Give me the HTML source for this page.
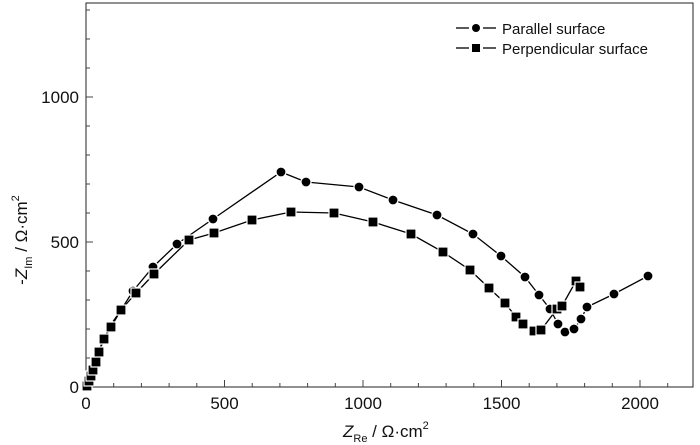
<!DOCTYPE html>
<html><head><meta charset="utf-8"><style>html,body{margin:0;padding:0;background:#fff}svg{display:block}</style></head>
<body>
<svg width="700" height="445" viewBox="0 0 700 445" xmlns="http://www.w3.org/2000/svg" font-family="Liberation Sans, Arial, sans-serif">
<rect x="86" y="3" width="607" height="384" fill="none" stroke="#222" stroke-width="1"/>
<g stroke="#444" stroke-width="1">
<line x1="86" y1="387" x2="86" y2="380"/>
<line x1="113.7" y1="387" x2="113.7" y2="383"/>
<line x1="141.4" y1="387" x2="141.4" y2="383"/>
<line x1="169.1" y1="387" x2="169.1" y2="383"/>
<line x1="196.8" y1="387" x2="196.8" y2="383"/>
<line x1="224.5" y1="387" x2="224.5" y2="380"/>
<line x1="252.2" y1="387" x2="252.2" y2="383"/>
<line x1="279.9" y1="387" x2="279.9" y2="383"/>
<line x1="307.6" y1="387" x2="307.6" y2="383"/>
<line x1="335.3" y1="387" x2="335.3" y2="383"/>
<line x1="363" y1="387" x2="363" y2="380"/>
<line x1="390.7" y1="387" x2="390.7" y2="383"/>
<line x1="418.4" y1="387" x2="418.4" y2="383"/>
<line x1="446.1" y1="387" x2="446.1" y2="383"/>
<line x1="473.8" y1="387" x2="473.8" y2="383"/>
<line x1="501.5" y1="387" x2="501.5" y2="380"/>
<line x1="529.2" y1="387" x2="529.2" y2="383"/>
<line x1="556.9" y1="387" x2="556.9" y2="383"/>
<line x1="584.6" y1="387" x2="584.6" y2="383"/>
<line x1="612.3" y1="387" x2="612.3" y2="383"/>
<line x1="640" y1="387" x2="640" y2="380"/>
<line x1="667.7" y1="387" x2="667.7" y2="383"/>
<line x1="86" y1="358" x2="90" y2="358"/>
<line x1="86" y1="329" x2="90" y2="329"/>
<line x1="86" y1="300" x2="90" y2="300"/>
<line x1="86" y1="271" x2="90" y2="271"/>
<line x1="86" y1="242" x2="93" y2="242"/>
<line x1="86" y1="213" x2="90" y2="213"/>
<line x1="86" y1="184" x2="90" y2="184"/>
<line x1="86" y1="155" x2="90" y2="155"/>
<line x1="86" y1="126" x2="90" y2="126"/>
<line x1="86" y1="97" x2="93" y2="97"/>
<line x1="86" y1="68" x2="90" y2="68"/>
<line x1="86" y1="39" x2="90" y2="39"/>
<line x1="86" y1="10" x2="90" y2="10"/>
</g>
<g font-size="17" fill="#111" text-anchor="middle">
<text x="86" y="409">0</text>
<text x="224.5" y="409">500</text>
<text x="363" y="409">1000</text>
<text x="501.5" y="409">1500</text>
<text x="640" y="409">2000</text>
</g>
<g font-size="17" fill="#111" text-anchor="end">
<text x="79" y="393">0</text>
<text x="79" y="248">500</text>
<text x="79" y="103">1000</text>
</g>
<text x="343" y="437" font-size="17" fill="#111"><tspan font-style="italic">Z</tspan><tspan font-size="11" dy="5">Re</tspan><tspan dy="-5"> / Ω·cm</tspan><tspan font-size="11" dy="-8">2</tspan></text>
<text transform="translate(27,240) rotate(-90)" text-anchor="middle" font-size="17" fill="#111">-<tspan font-style="italic">Z</tspan><tspan font-size="11" dy="5">Im</tspan><tspan dy="-5"> / Ω·cm</tspan><tspan font-size="11" dy="-8">2</tspan></text>
<polyline fill="none" stroke="#000" stroke-width="1.3" points="86,387 87,385 88,382 90,377 92,371 95,363 98,352 104,339 110,326 121,310 133,291 153,267 177,244 213,219 281,172 306,182 359,187 393,200 437,215 473,234 501,256 525,277 539,295 550,309 558,324 565,332 574,329 581,319 587,307 614,294 648,276"/>
<g fill="#000" stroke="#fff" stroke-width="1.2">
<circle cx="87" cy="385" r="5"/><circle cx="88" cy="382" r="5"/><circle cx="90" cy="377" r="5"/><circle cx="92" cy="371" r="5"/><circle cx="95" cy="363" r="5"/><circle cx="98" cy="352" r="5"/><circle cx="104" cy="339" r="5"/><circle cx="110" cy="326" r="5"/><circle cx="121" cy="310" r="5"/><circle cx="133" cy="291" r="5"/><circle cx="153" cy="267" r="5"/><circle cx="177" cy="244" r="5"/><circle cx="213" cy="219" r="5"/><circle cx="281" cy="172" r="5"/><circle cx="306" cy="182" r="5"/><circle cx="359" cy="187" r="5"/><circle cx="393" cy="200" r="5"/><circle cx="437" cy="215" r="5"/><circle cx="473" cy="234" r="5"/><circle cx="501" cy="256" r="5"/><circle cx="525" cy="277" r="5"/><circle cx="539" cy="295" r="5"/><circle cx="550" cy="309" r="5"/><circle cx="558" cy="324" r="5"/><circle cx="565" cy="332" r="5"/><circle cx="574" cy="329" r="5"/><circle cx="581" cy="319" r="5"/><circle cx="587" cy="307" r="5"/><circle cx="614" cy="294" r="5"/><circle cx="648" cy="276" r="5"/>
</g>
<polyline fill="none" stroke="#000" stroke-width="1.3" points="86,387 87,385 89,381 91,376 93,370 96,362 99,352 104,339 111,327 121,310 136,293 154,274 189,240 214,233 252,220 291,212 334,213 373,222 411,234 443,252 470,270 489,288 505,303 516,317 523,324 534,331 541,330 557,309 562,306 576,281 580,287"/>
<g fill="#000" stroke="#fff" stroke-width="1.2">
<rect x="82" y="381" width="10" height="10"/><rect x="84" y="376" width="10" height="10"/><rect x="86" y="371" width="10" height="10"/><rect x="88" y="365" width="10" height="10"/><rect x="91" y="357" width="10" height="10"/><rect x="94" y="347" width="10" height="10"/><rect x="99" y="334" width="10" height="10"/><rect x="106" y="322" width="10" height="10"/><rect x="116" y="305" width="10" height="10"/><rect x="131" y="288" width="10" height="10"/><rect x="149" y="269" width="10" height="10"/><rect x="184" y="235" width="10" height="10"/><rect x="209" y="228" width="10" height="10"/><rect x="247" y="215" width="10" height="10"/><rect x="286" y="207" width="10" height="10"/><rect x="329" y="208" width="10" height="10"/><rect x="368" y="217" width="10" height="10"/><rect x="406" y="229" width="10" height="10"/><rect x="438" y="247" width="10" height="10"/><rect x="465" y="265" width="10" height="10"/><rect x="484" y="283" width="10" height="10"/><rect x="500" y="298" width="10" height="10"/><rect x="511" y="312" width="10" height="10"/><rect x="518" y="319" width="10" height="10"/><rect x="529" y="326" width="10" height="10"/><rect x="536" y="325" width="10" height="10"/><rect x="552" y="304" width="10" height="10"/><rect x="557" y="301" width="10" height="10"/><rect x="571" y="276" width="10" height="10"/><rect x="575" y="282" width="10" height="10"/>
</g>
<g stroke="#000" stroke-width="1.3">
<line x1="456" y1="28" x2="469" y2="28"/><line x1="483" y1="28" x2="496" y2="28"/>
<line x1="456" y1="48" x2="469" y2="48"/><line x1="483" y1="48" x2="496" y2="48"/>
</g>
<circle cx="476" cy="28" r="4"/>
<rect x="472" y="44" width="8" height="8"/>
<text x="502" y="34" font-size="15" fill="#111">Parallel surface</text>
<text x="502" y="54" font-size="15" fill="#111">Perpendicular surface</text>
</svg>
</body></html>
